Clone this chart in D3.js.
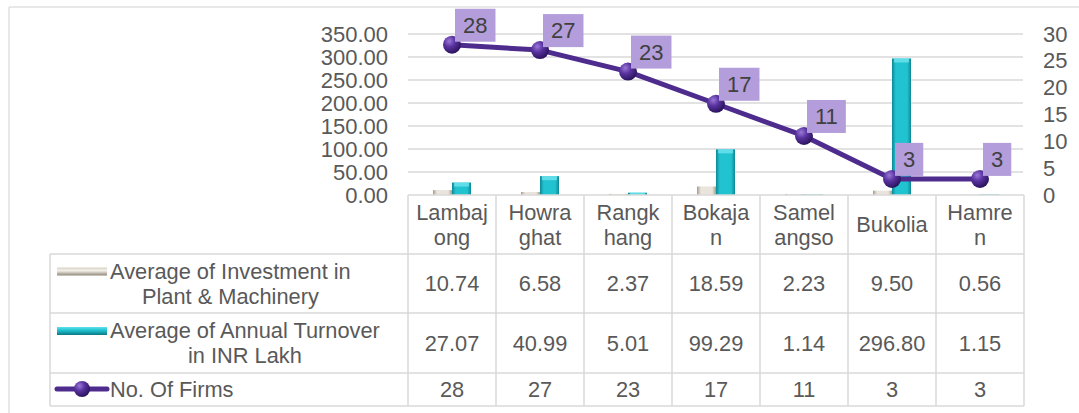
<!DOCTYPE html>
<html>
<head>
<meta charset="utf-8">
<script src="https://cdn.jsdelivr.net/npm/d3@7"></script>
<style>
  body { margin: 0; background: #fff; }
  svg { display: block; font-family: "Liberation Sans", Arial, sans-serif; }
</style>
</head>
<body>
<svg id="chart" width="1079" height="413"></svg>
<script>
// chart data
var categoryLines = [["Lambaj", "ong"], ["Howra", "ghat"], ["Rangk", "hang"], ["Bokaja", "n"], ["Samel", "angso"], ["Bukolia"], ["Hamre", "n"]];
var categories = categoryLines.map(function(d) { return d.join(""); });
var investment = [10.74, 6.58, 2.37, 18.59, 2.23, 9.50, 0.56];
var turnover = [27.07, 40.99, 5.01, 99.29, 1.14, 296.80, 1.15];
var firms = [28, 27, 23, 17, 11, 3, 3];
var leftTicks = [0, 50, 100, 150, 200, 250, 300, 350];
var rightTicks = [0, 5, 10, 15, 20, 25, 30];
var seriesNames = [["Average of Investment in", "Plant & Machinery"], ["Average of Annual Turnover", "in INR Lakh"], ["No. Of Firms"]];

var FONT = 21.8;
var TEXT = "#595959";
var GRID = "#d9d9d9";
var LINE = "#4e2c8e";

var svg = d3.select("#chart");
var defs = svg.append("defs");

function hGrad(id, stops) {
  var g = defs.append("linearGradient").attr("id", id).attr("x1", 0).attr("x2", 1).attr("y1", 0).attr("y2", 0);
  stops.forEach(function(s) { g.append("stop").attr("offset", s[0]).attr("stop-color", s[1]); });
}
function vGrad(id, stops) {
  var g = defs.append("linearGradient").attr("id", id).attr("x1", 0).attr("x2", 0).attr("y1", 0).attr("y2", 1);
  stops.forEach(function(s) { g.append("stop").attr("offset", s[0]).attr("stop-color", s[1]); });
}
hGrad("invGrad", [[0, "#a39b8c"], [0.2, "#e9e5dc"], [0.8, "#e9e5dc"], [1, "#a39b8c"]]);
hGrad("turnGrad", [[0, "#0d8795"], [0.2, "#22c3d1"], [0.8, "#22c3d1"], [1, "#0d8795"]]);
vGrad("invKey", [[0, "#d8d2c6"], [0.4, "#f3f0ea"], [1, "#8f8778"]]);
vGrad("turnKey", [[0, "#5fe2ec"], [0.4, "#22c3d1"], [1, "#0b7884"]]);
var rg = defs.append("radialGradient").attr("id", "dotGrad").attr("cx", "35%").attr("cy", "30%").attr("r", "70%");
rg.append("stop").attr("offset", 0).attr("stop-color", "#9a78d8");
rg.append("stop").attr("offset", 0.45).attr("stop-color", "#5a34a0");
rg.append("stop").attr("offset", 1).attr("stop-color", "#2c1460");

// outer frame (only top and left visible)
svg.append("line").attr("x1", 9).attr("x2", 1079).attr("y1", 7).attr("y2", 7).attr("stroke", "#e0e0e0").attr("stroke-width", 1.5);
svg.append("line").attr("x1", 9).attr("x2", 9).attr("y1", 7).attr("y2", 413).attr("stroke", "#e0e0e0").attr("stroke-width", 1.5);

// scales
var x = d3.scaleBand().domain(categories).range([408, 1024]);
var yL = d3.scaleLinear().domain([0, 350]).range([195, 34]);
var yR = d3.scaleLinear().domain([0, 30]).range([195, 34]);
var sub = d3.scaleBand().domain(["inv", "turn"]).range([-19, 19]);

// gridlines
svg.append("g").selectAll("line").data(leftTicks.slice(1)).join("line")
  .attr("x1", 408).attr("x2", 1023)
  .attr("y1", function(d) { return yL(d); }).attr("y2", function(d) { return yL(d); })
  .attr("stroke", GRID).attr("stroke-width", 1.5);

// axes
var leftAxis = svg.append("g").attr("transform", "translate(392,0)")
  .call(d3.axisLeft(yL).tickValues(leftTicks).tickFormat(d3.format(".2f")).tickSize(0).tickPadding(4));
var rightAxis = svg.append("g").attr("transform", "translate(1039,0)")
  .call(d3.axisRight(yR).tickValues(rightTicks).tickSize(0).tickPadding(4));
[leftAxis, rightAxis].forEach(function(a) {
  a.select(".domain").remove();
  a.selectAll("text").attr("font-size", 22).attr("fill", TEXT)
    .attr("font-family", "Liberation Sans, Arial, sans-serif");
});

// bars
var bars = svg.append("g");
bars.selectAll("rect.inv").data(investment).join("rect").attr("class", "inv")
  .attr("x", function(d, i) { return x(categories[i]) + x.bandwidth() / 2 + sub("inv"); })
  .attr("width", sub.bandwidth())
  .attr("y", function(d) { return yL(d); })
  .attr("height", function(d) { return yL(0) - yL(d); })
  .attr("fill", "url(#invGrad)");
bars.selectAll("rect.turn").data(turnover).join("rect").attr("class", "turn")
  .attr("x", function(d, i) { return x(categories[i]) + x.bandwidth() / 2 + sub("turn"); })
  .attr("width", sub.bandwidth())
  .attr("y", function(d) { return yL(d); })
  .attr("height", function(d) { return yL(0) - yL(d); })
  .attr("fill", "url(#turnGrad)");
// light caps on top of the turnover bars
bars.selectAll("rect.cap").data(turnover).join("rect").attr("class", "cap")
  .attr("x", function(d, i) { return x(categories[i]) + x.bandwidth() / 2 + sub("turn") + 2; })
  .attr("width", sub.bandwidth() - 4)
  .attr("y", function(d) { return yL(d); })
  .attr("height", function(d) { return Math.min(4, yL(0) - yL(d)); })
  .attr("fill", "#6fe4ee").attr("opacity", 0.8);

// firms line
var cx = function(d, i) { return x(categories[i]) + x.bandwidth() / 2; };
var line = d3.line().x(cx).y(function(d) { return yR(d); });
svg.append("path").datum(firms).attr("d", line)
  .attr("fill", "none").attr("stroke", LINE).attr("stroke-width", 5).attr("stroke-linejoin", "round");
svg.append("g").selectAll("circle").data(firms).join("circle")
  .attr("cx", cx).attr("cy", function(d) { return yR(d); }).attr("r", 9)
  .attr("fill", "url(#dotGrad)");

// data labels
var labels = svg.append("g").selectAll("g").data(firms).join("g")
  .attr("transform", function(d, i) { return "translate(" + (cx(d, i) + 3) + "," + (yR(d) - 36) + ")"; });
labels.append("rect").attr("height", 33).attr("fill", "#b39ddb");
labels.append("text").text(function(d) { return d; })
  .attr("x", 8).attr("y", 24).attr("font-size", 22).attr("fill", "#404040");
labels.each(function() {
  var g = d3.select(this);
  var w = g.select("text").node().getComputedTextLength();
  g.select("rect").attr("width", w + 16);
});

// data table
var colLeft = 50, tableRight = 1024;
var rowEdges = [195, 254, 313, 373, 406];
var table = svg.append("g");
function hline(x1, x2, y) {
  table.append("line").attr("x1", x1).attr("x2", x2).attr("y1", y).attr("y2", y).attr("stroke", GRID).attr("stroke-width", 1.5);
}
function vline(xv, y1, y2) {
  table.append("line").attr("x1", xv).attr("x2", xv).attr("y1", y1).attr("y2", y2).attr("stroke", GRID).attr("stroke-width", 1.5);
}
hline(408, tableRight, rowEdges[0]);
rowEdges.slice(1).forEach(function(y) { hline(colLeft, tableRight, y); });
vline(colLeft, rowEdges[1], rowEdges[4]);
categories.forEach(function(c) { vline(x(c), rowEdges[0], rowEdges[4]); });
vline(tableRight, rowEdges[0], rowEdges[4]);

function lineY(mid, i, n) { return mid + (i - (n - 1) / 2) * 25 + 7.5; }

// category header
categoryLines.forEach(function(lines, i) {
  var mid = (rowEdges[0] + rowEdges[1]) / 2;
  lines.forEach(function(t, j) {
    table.append("text").text(t)
      .attr("x", x(categories[i]) + x.bandwidth() / 2).attr("y", lineY(mid, j, lines.length))
      .attr("text-anchor", "middle").attr("font-size", FONT).attr("fill", TEXT);
  });
});

// value rows
var rows = [investment.map(d3.format(".2f")), turnover.map(d3.format(".2f")), firms.map(String)];
rows.forEach(function(vals, r) {
  var mid = (rowEdges[r + 1] + rowEdges[r + 2]) / 2;
  vals.forEach(function(v, i) {
    table.append("text").text(v)
      .attr("x", x(categories[i]) + x.bandwidth() / 2).attr("y", mid + 7.5)
      .attr("text-anchor", "middle").attr("font-size", FONT).attr("fill", TEXT);
  });

  // series name with legend key
  var names = seriesNames[r];
  var y0 = lineY(mid, 0, names.length);
  var first = table.append("text").text(names[0]).attr("x", 110).attr("y", y0)
    .attr("font-size", FONT).attr("fill", TEXT);
  var w = first.node().getComputedTextLength();
  names.slice(1).forEach(function(t, j) {
    table.append("text").text(t).attr("x", 110 + w / 2).attr("y", lineY(mid, j + 1, names.length))
      .attr("text-anchor", "middle").attr("font-size", FONT).attr("fill", TEXT);
  });
  if (r < 2) {
    table.append("rect").attr("x", 57).attr("width", 50).attr("y", y0 - 11).attr("height", 8)
      .attr("fill", r === 0 ? "url(#invKey)" : "url(#turnKey)");
  } else {
    table.append("line").attr("x1", 57).attr("x2", 107).attr("y1", y0 - 8).attr("y2", y0 - 8)
      .attr("stroke", LINE).attr("stroke-width", 5).attr("stroke-linecap", "round");
    table.append("circle").attr("cx", 82).attr("cy", y0 - 8).attr("r", 8).attr("fill", "url(#dotGrad)");
  }
});
</script>
</body>
</html>
